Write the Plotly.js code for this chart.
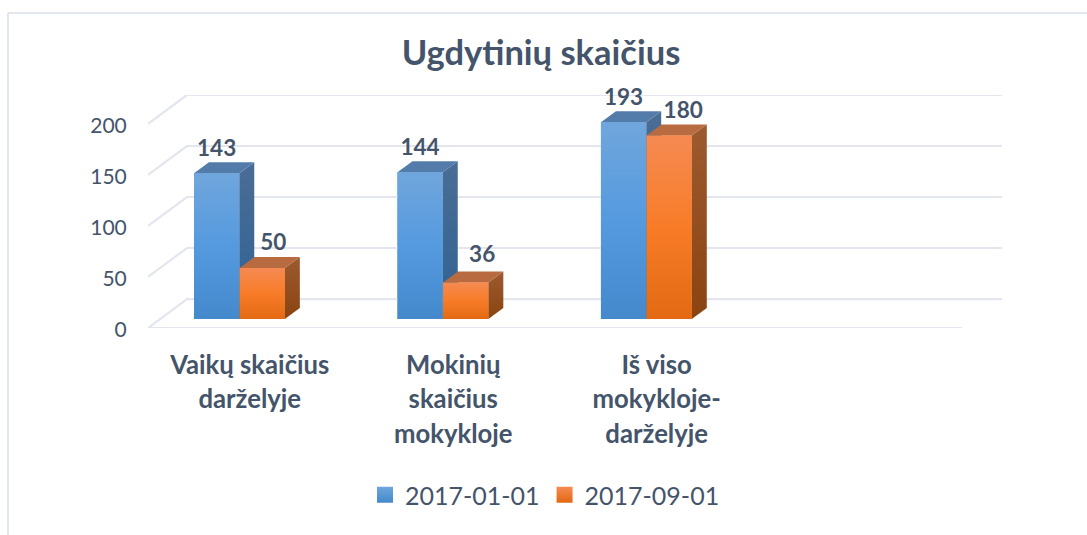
<!DOCTYPE html>
<html>
<head>
<meta charset="utf-8">
<script src="https://cdn.plot.ly/plotly-3.0.1.min.js"></script>
<style>html,body{margin:0;padding:0;background:#fff;overflow:hidden}</style>
</head>
<body>
<div id="chart" style="width:1087px;height:535px"></div>
<script>
const titleText = "Ugdytinių skaičius";
const categories = ["Vaikų skaičius<br>darželyje", "Mokinių<br>skaičius<br>mokykloje", "Iš viso<br>mokykloje-<br>darželyje"];
const seriesNames = ["2017-01-01", "2017-09-01"];
const valuesA = [143, 144, 193];
const valuesB = [50, 36, 180];
const yTicks = [0, 50, 100, 150, 200];

const INK = "#44546a", GRID = "#e3e6ee";
const styles = [
  {front:["#4389cc","#559adf","#70a6dc"], side:["#2f6295","#4a6d94"], top:"#547cab", offset:-0.274, labelDx:[0,0,0], labelDy:[0,0,0]},
  {front:["#e36912","#f87c28","#f58a52"], side:["#8a4410","#9c5a30"], top:"#b86a40", offset:-0.05, labelDx:[0.054,0.081,0.069], labelDy:[0,3,0]}
];
const barW = 0.2225, base = 8.7, dx = 0.0737, dy = 10.8;
const wallX = 0.1916, wallY = 28.4, xMin = -0.5, xFrontMax = 3.5, xMax = 3.697;

const poly = (xs, ys, fill) => {
  const t = {x:[...xs, xs[0]], y:[...ys, ys[0]], type:"scatter", mode:"lines", line:{width:0},
             fill:"toself", showlegend:false, hoverinfo:"skip", cliponaxis:false};
  if (Array.isArray(fill)) {
    t.fillgradient = {type:"vertical", colorscale: fill.map((c,i)=>[i/(fill.length-1), c])};
  } else t.fillcolor = fill;
  return t;
};
const gridLine = (xs, ys) => ({x:xs, y:ys, type:"scatter", mode:"lines", line:{color:GRID, width:2.2},
  showlegend:false, hoverinfo:"skip", cliponaxis:false});

const traces = [];
yTicks.forEach(v => {
  traces.push(gridLine([xMin, xMin+wallX, xMax], [v, v+wallY, v+wallY]));
});
traces.push(gridLine([xMin, xFrontMax], [0, 0]));

[valuesA, valuesB].forEach((vals, s) => {
  const st = styles[s];
  traces.push({type:"bar", x:vals.map((_,i)=>i), y:vals, base:base, width:barW, offset:st.offset,
    marker:{color:st.front[1], line:{width:0}}, showlegend:false, hoverinfo:"skip", name:seriesNames[s]});
});
[valuesA, valuesB].forEach((vals, s) => {
  const st = styles[s];
  vals.forEach((v, i) => {
    const x0 = i + st.offset, x1 = x0 + barW, y0 = base, y1 = base + v;
    traces.push(poly([x1, x1+dx, x1+dx, x1], [y0, y0+dy, y1+dy, y1], st.side));
    traces.push(poly([x0, x1, x1+dx, x0+dx], [y1, y1, y1+dy, y1+dy], st.top));
    traces.push(poly([x0, x1, x1, x0], [y0, y0, y1, y1], st.front));
  });
});
[valuesA, valuesB].forEach((vals, s) => {
  const st = styles[s];
  traces.push({type:"scatter", mode:"text", x:vals.map((_,i)=>i+st.offset+barW/2+st.labelDx[i]),
    y:vals.map((v,i)=>v+base+dy+1+st.labelDy[i]), text:vals.map(String), textposition:"top center",
    textfont:{family:"Lato", size:22.5, color:INK, weight:700}, showlegend:false, hoverinfo:"skip", cliponaxis:false});
});
// legend entries
seriesNames.forEach((n, s) => {
  traces.push({type:"scatter", mode:"markers", x:[null], y:[null], name:n, hoverinfo:"skip",
    marker:{symbol:"square", size:16, color:styles[s].front[2], line:{width:0},
            gradient:{type:"vertical", color:styles[s].front[0]}}});
});

const catSpan = '<span style="font-size:25.7px">';
const layout = {
  width:1087, height:535, autosize:false,
  margin:{l:148, r:85, t:95, b:207, pad:0},
  paper_bgcolor:"#ffffff", plot_bgcolor:"rgba(0,0,0,0)",
  barmode:"overlay",
  title:{text:"<b>"+titleText+"</b>", x:541/1087, xanchor:"center", y:1-53/535, yanchor:"middle",
         xref:"container", yref:"container", font:{family:"Lato", size:34.5, color:INK}},
  xaxis:{type:"linear", range:[xMin, xMax], tickmode:"array", tickvals:categories.map((_,i)=>i),
         ticktext:categories.map(c=>c.split("<br>").map(l=>'<b>'+catSpan+l+'</span></b>').join('<br>')),
         tickangle:0, showgrid:false, zeroline:false, showline:false, ticks:"outside", ticklen:13, tickcolor:"rgba(0,0,0,0)",
         tickfont:{family:"Lato", size:26.5, color:INK}},
  yaxis:{range:[0, 228.4], tickmode:"array", tickvals:yTicks, ticktext:yTicks.map(String), showgrid:false, zeroline:false, showline:false,
         ticks:"outside", ticklen:16, tickcolor:"rgba(0,0,0,0)", ticklabelshift:2, tickfont:{family:"Lato", size:21, color:INK}},
  legend:{orientation:"h", xref:"container", yref:"container", x:365/1087, xanchor:"left", y:1-495/535, yanchor:"middle",
          font:{family:"Lato", size:25, color:INK}, itemwidth:30, bgcolor:"rgba(0,0,0,0)"},
  shapes:[
    {type:"line", xref:"paper", yref:"paper", x0:(8-148)/854, x1:(1087-148)/854, y0:(328-13)/233, y1:(328-13)/233, line:{color:GRID, width:2}},
    {type:"line", xref:"paper", yref:"paper", x0:(8-148)/854, x1:(8-148)/854, y0:(328-13)/233, y1:(328-535)/233, line:{color:GRID, width:2}}
  ],
  hovermode:false, showlegend:true
};
Plotly.newPlot("chart", traces, layout, {displayModeBar:false, staticPlot:true});
</script>
</body>
</html>
